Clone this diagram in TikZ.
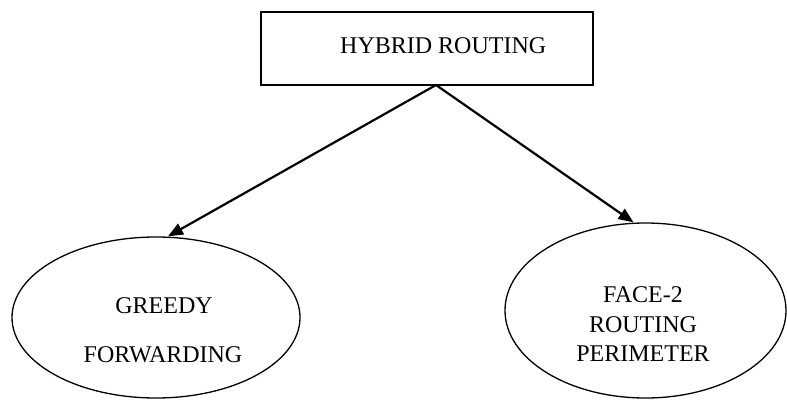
\documentclass[tikz,border=0pt]{standalone}
\usepackage{fontspec}
\setmainfont{Liberation Serif}
\usetikzlibrary{shapes.geometric,arrows.meta}
\begin{document}
\begin{tikzpicture}[x=1pt,y=-1pt,
  box/.style={draw,line width=1.8pt,minimum width=332pt,minimum height=73pt,inner sep=0pt},
  oval/.style={draw,ellipse,line width=1.3pt,inner sep=0pt},
  lbl/.style={font=\fontsize{24}{28}\selectfont,inner sep=0pt,anchor=base},
  arr/.style={line width=2.2pt,-{Triangle[length=15pt,width=12pt]}}]
\useasboundingbox (0,0) rectangle (787,399);
% top box
\node[box] (hr) at (427,48.5) {};
\node[lbl,anchor=base west] (hrt) at (340,53) {HYBRID ROUTING};
% two ovals
\node[oval,minimum width=288pt,minimum height=161pt] (gf) at (156,317.5) {};
\node[oval,minimum width=281pt,minimum height=175pt] (fp) at (645.5,310.5) {};
\node[lbl] (g1) at (164,313) {GREEDY};
\node[lbl] (g2) at (163,362) {FORWARDING};
\node[lbl] (f1) at (643,302) {FACE-2};
\node[lbl] (f2) at (643,332) {ROUTING};
\node[lbl] (f3) at (643,361) {PERIMETER};
% connectors
\coordinate (apex) at (436,85);
\draw[arr] (apex) -- ([xshift=12pt]gf.north);
\draw[arr] (apex) -- ([xshift=-12pt]fp.north);
\end{tikzpicture}
\end{document}
